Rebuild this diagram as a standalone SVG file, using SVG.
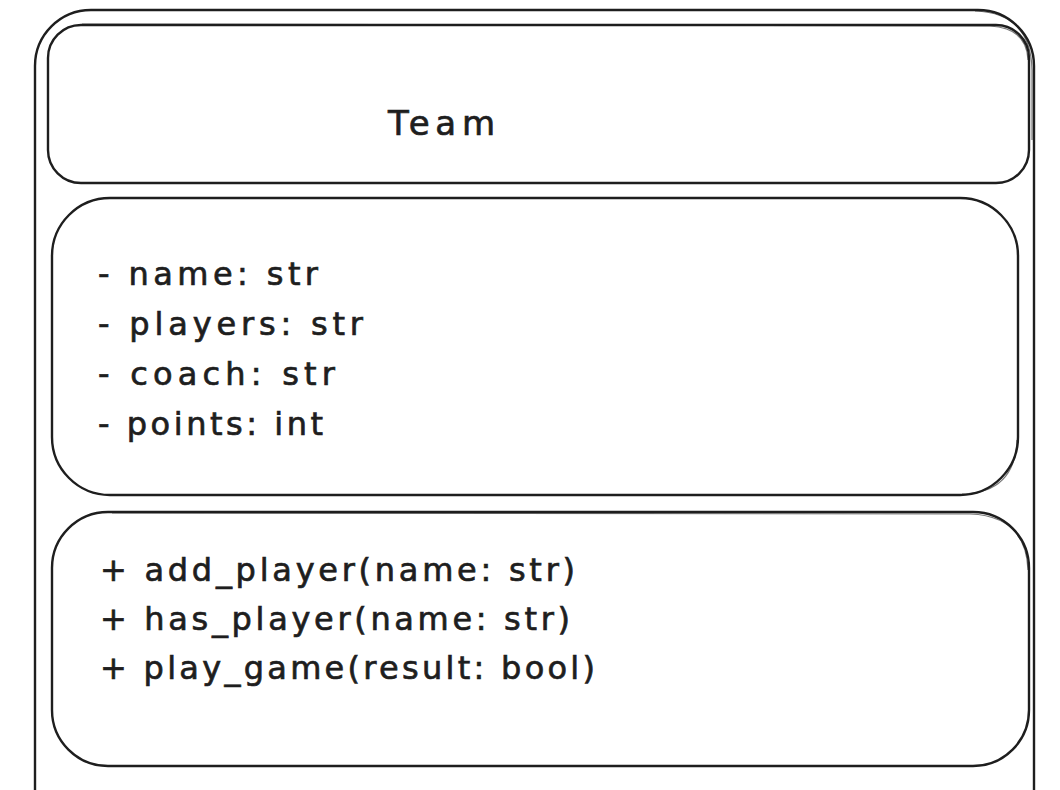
<svg xmlns="http://www.w3.org/2000/svg" width="1060" height="790" viewBox="0 0 1060 790">
  <style>
    .box { fill: none; stroke: #1e1e1e; stroke-width: 2.4; stroke-linecap: round; stroke-linejoin: round; }
    .sk { fill: none; stroke: #1e1e1e; stroke-width: 1.2; opacity: 0.6; }
    .t { font-family: "DejaVu Sans", "Liberation Sans", sans-serif; font-size: 32px; fill: #1e1e1e; stroke: #1e1e1e; stroke-width: 0.7; }
    .title { font-size: 34px; }
  </style>
  <rect width="1060" height="790" fill="#ffffff"/>

  <g id="class-outer">
    <rect class="box" x="35" y="10" width="999" height="900" rx="56" ry="56"/>
    <path class="sk" d="M975,11 Q1031,13 1032,70 L1032,140"/>
  </g>

  <g id="class-header">
    <rect class="box" x="48" y="25" width="981" height="158" rx="33" ry="33"/>
    <path class="sk" d="M82,24 L990,26 Q1027,28 1028,60"/>
    <text class="t title" x="388" y="135" textLength="107" lengthAdjust="spacing">Team</text>
  </g>

  <g id="class-attributes">
    <rect class="box" x="52" y="198" width="966" height="297" rx="58" ry="58"/>
    <path class="sk" d="M962,494 Q1015,493 1017,440"/>
    <text class="t" x="98" y="285" textLength="220" lengthAdjust="spacing">- name: str</text>
    <text class="t" x="98" y="335" textLength="265" lengthAdjust="spacing">- players: str</text>
    <text class="t" x="98" y="385" textLength="237" lengthAdjust="spacing">- coach: str</text>
    <text class="t" x="98" y="435" textLength="225" lengthAdjust="spacing">- points: int</text>
  </g>

  <g id="class-methods">
    <rect class="box" x="52" y="512" width="977" height="254" rx="56" ry="56"/>
    <path class="sk" d="M112,513 L970,514 Q1026,516 1028,570"/>
    <text class="t" x="100" y="581" textLength="475" lengthAdjust="spacing">+ add_player(name: str)</text>
    <text class="t" x="100" y="630" textLength="470" lengthAdjust="spacing">+ has_player(name: str)</text>
    <text class="t" x="100" y="679" textLength="495" lengthAdjust="spacing">+ play_game(result: bool)</text>
  </g>

  <g id="connectors"></g>
</svg>
